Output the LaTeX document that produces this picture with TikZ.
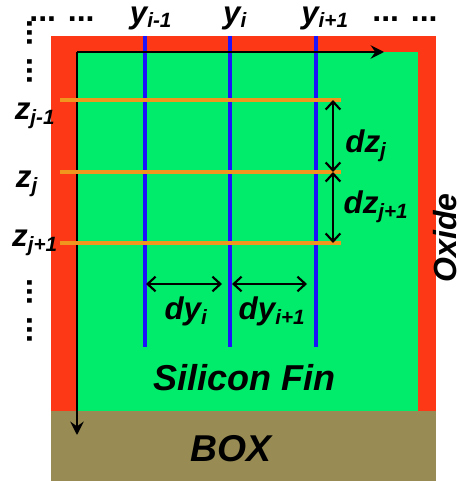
\documentclass[tikz,border=0pt]{standalone}
\usepackage{fontspec}
\setmainfont{Liberation Sans}
\usetikzlibrary{arrows.meta}
\definecolor{oxidered}{RGB}{252,56,22}
\definecolor{fingreen}{RGB}{0,236,106}
\definecolor{boxbrown}{RGB}{152,140,84}
\definecolor{gridorange}{RGB}{240,150,30}
\definecolor{gridblue}{RGB}{30,20,250}
\tikzstyle{region} = [draw = none, inner sep = 0pt, outer sep = 0pt, anchor = north west]
\tikzstyle{gridy} = [gridblue, line width = 2.6pt]
\tikzstyle{gridz} = [gridorange, line width = 2.5pt]
\tikzstyle{arrow} = [line width = 1.8pt, -{Stealth[length = 10pt, width = 10pt, inset = 3.5pt]}]
\tikzstyle{dblarrow} = [line width = 1.6pt, {Straight Barb[length = 6pt, width = 11pt, line width = 1.6pt]}-{Straight Barb[length = 6pt, width = 11pt, line width = 1.6pt]}]
\tikzstyle{label} = [inner sep = 0pt, font = \fontsize{23.5}{23.5}\selectfont\bfseries\itshape]
\tikzstyle{title} = [inner sep = 0pt, font = \fontsize{27}{27}\selectfont\bfseries\itshape]
\tikzstyle{dots} = [inner sep = 0pt, font = \fontsize{24}{24}\selectfont\bfseries]
\newcommand{\lbl}[2]{#1\textsubscript{\fontsize{15.5}{15.5}\selectfont #2}}

\begin{document}
\begin{tikzpicture}[x = 0.75pt, y = -0.75pt]
\useasboundingbox (0,0) rectangle (458,481);

% regions
\node (oxide) [region, fill = oxidered, minimum width = 288.75pt, minimum height = 281.25pt] at (51,36) {};
\node (fin) [region, fill = fingreen, minimum width = 255.75pt, minimum height = 269.25pt] at (77,52) {};
\node (box) [region, fill = boxbrown, minimum width = 288.75pt, minimum height = 52.5pt] at (51,411) {};

% grid lines
\coordinate (yi0a) at (145,36);  \coordinate (yi0b) at (145,347);
\coordinate (yi1a) at (230,36);  \coordinate (yi1b) at (230,347);
\coordinate (yi2a) at (316,36);  \coordinate (yi2b) at (316,347);
\draw [gridy] (yi0a) -- (yi0b);
\draw [gridy] (yi1a) -- (yi1b);
\draw [gridy] (yi2a) -- (yi2b);

% axes
\coordinate (origin) at (77,52);
\coordinate (yend) at (384,52);
\coordinate (zend) at (77,435);
\draw [arrow] (origin) -- (yend);
\draw [arrow] (origin) -- (zend);

\coordinate (zj0a) at (60,100);  \coordinate (zj0b) at (341,100);
\coordinate (zj1a) at (60,172);  \coordinate (zj1b) at (341,172);
\coordinate (zj2a) at (60,243);  \coordinate (zj2b) at (341,243);
\draw [gridz] (zj0a) -- (zj0b);
\draw [gridz] (zj1a) -- (zj1b);
\draw [gridz] (zj2a) -- (zj2b);

% spacing arrows
\coordinate (dz0) at (333,100);
\coordinate (dz1) at (333,172);
\coordinate (dz2) at (333,243);
\draw [dblarrow] (dz0) -- (dz1);
\draw [dblarrow] (dz1) -- (dz2);
\coordinate (dy0) at (146,284);
\coordinate (dy1) at (222,284);
\coordinate (dy2) at (232,284);
\coordinate (dy3) at (307,284);
\draw [dblarrow] (dy0) -- (dy1);
\draw [dblarrow] (dy2) -- (dy3);

% labels
\node (ylabel0) [label] at (151,18) {\lbl{y}{i-1}};
\node (ylabel1) [label] at (235,18) {\lbl{y}{i}};
\node (ylabel2) [label] at (325,18) {\lbl{y}{i+1}};
\node (zlabel0) [label] at (35,116) {\lbl{z}{j-1}};
\node (zlabel1) [label] at (27,184) {\lbl{z}{j}};
\node (zlabel2) [label] at (35,243) {\lbl{z}{j+1}};
\node (dzlabel0) [label] at (366,146) {\lbl{dz}{j}};
\node (dzlabel1) [label] at (376,207) {\lbl{dz}{j+1}};
\node (dylabel0) [label] at (186,311) {\lbl{dy}{i}};
\node (dylabel1) [label] at (272,311) {\lbl{dy}{i+1}};

\node (finlabel) [title] at (244,378) {Silicon Fin};
\node (boxlabel) [title, font = \fontsize{28}{28}\selectfont\bfseries\itshape] at (231,449) {BOX};
\node (oxidelabel) [label, font = \fontsize{24}{24}\selectfont\bfseries\itshape, rotate = 90] at (445,238) {Oxide};

\node (dotstopl) [dots] at (62,19) {... ...};
\node (dotstopr) [dots] at (405,19) {... ...};
\node (dotsleft0) [dots, rotate = -90] at (30,52) {... ...};
\node (dotsleft1) [dots, rotate = -90] at (30,311) {... ...};
\end{tikzpicture}
\end{document}
